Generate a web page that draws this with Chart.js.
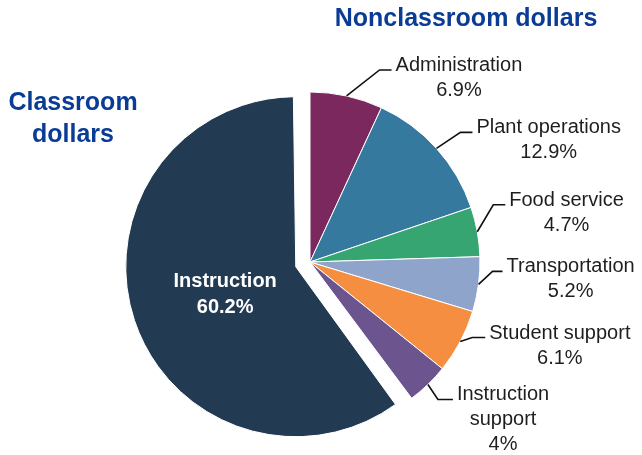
<!DOCTYPE html>
<html>
<head>
<meta charset="utf-8">
<script src="https://cdn.jsdelivr.net/npm/chart.js@4.4.1/dist/chart.umd.min.js"></script>
<style>
  html, body { margin: 0; padding: 0; background: #fff; }
</style>
</head>
<body>
<canvas id="spendingPie" width="642" height="455"></canvas>
<script>
// slices run clockwise from 12 o'clock
const categories = ['Administration', 'Plant operations', 'Food service', 'Transportation',
                    'Student support', 'Instruction support', 'Instruction'];
const labelLines = [['Administration'], ['Plant operations'], ['Food service'], ['Transportation'],
                    ['Student support'], ['Instruction', 'support'], ['Instruction']];
const shares = [6.9, 12.9, 4.7, 5.2, 6.1, 4, 60.2];
const colors = ['#7b285e', '#35799e', '#36a572', '#8fa4cb', '#f68e41', '#6c558e', '#223b53'];
const explode = [0, 0, 0, 0, 0, 0, 60];   // chart.js moves a slice by offset / 4

// leader line elbow (relative to the slice edge) and the length of its flat tail
const elbows = [[33, -26], [24, -16], [16, -27], [14, -13], [12, -4], [10, 15]];
const tails = [12, 12, 12, 10, 13, 15];

const labelFont = '20px "Liberation Sans", Arial, sans-serif';
const titleFont = 'bold 25px "Liberation Sans", Arial, sans-serif';
const titleColor = '#0a3c96';

const sliceLabels = {
  id: 'sliceLabels',
  afterUpdate(chart) {
    // an offset slice also grows by offset / 4, keep it at the same radius as the rest
    chart.getDatasetMeta(0).data.forEach((arc, i) => { arc.outerRadius -= explode[i] / 4; });
  },
  afterDatasetsDraw(chart) {
    const ctx = chart.ctx;
    const arcs = chart.getDatasetMeta(0).data;
    ctx.save();
    ctx.textAlign = 'center';
    ctx.textBaseline = 'alphabetic';
    arcs.forEach((arc, i) => {
      const mid = (arc.startAngle + arc.endAngle) / 2;
      const shift = explode[i] / 4;
      const cx = arc.x + Math.cos(mid) * shift;
      const cy = arc.y + Math.sin(mid) * shift;
      const lines = [...labelLines[i], shares[i] + '%'];
      if (i === arcs.length - 1) {
        // big slice gets its label inside
        const r = arc.outerRadius * 0.48;
        const lx = cx + Math.cos(mid) * r, ly = cy + Math.sin(mid) * r;
        ctx.font = 'bold 20px "Liberation Sans", Arial, sans-serif';
        ctx.fillStyle = '#fff';
        lines.forEach((t, k) => ctx.fillText(t, lx, ly - 3 + k * 26));
        return;
      }
      const sx = cx + Math.cos(mid) * arc.outerRadius;
      const sy = cy + Math.sin(mid) * arc.outerRadius;
      const ex = sx + elbows[i][0], ey = sy + elbows[i][1];
      const tx = ex + tails[i];
      ctx.strokeStyle = '#111';
      ctx.lineWidth = 1.6;
      ctx.beginPath();
      ctx.moveTo(sx, sy);
      ctx.lineTo(ex, ey);
      ctx.lineTo(tx, ey);
      ctx.stroke();
      ctx.font = labelFont;
      ctx.fillStyle = '#1e1e1e';
      const w = Math.max(...lines.map(t => ctx.measureText(t).width));
      const mx = tx + 4 + w / 2;
      lines.forEach((t, k) => ctx.fillText(t, mx, ey + 1 + k * 25));
    });
    ctx.restore();
  },
  afterDraw(chart) {
    const ctx = chart.ctx;
    ctx.save();
    ctx.font = titleFont;
    ctx.fillStyle = titleColor;
    ctx.textAlign = 'center';
    ctx.fillText('Nonclassroom dollars', 466, 26);
    ctx.fillText('Classroom', 73, 110);
    ctx.fillText('dollars', 73, 142);
    ctx.restore();
  }
};

new Chart(document.getElementById('spendingPie'), {
  type: 'pie',
  data: {
    labels: categories,
    datasets: [{
      data: shares,
      backgroundColor: colors,
      borderColor: '#fff',
      borderWidth: 1,
      offset: explode,
      hoverOffset: 0,
      radius: 170
    }]
  },
  options: {
    responsive: false,
    animation: false,
    layout: { padding: { left: 0, right: 22, top: 69, bottom: 0 } },
    plugins: {
      legend: { display: false },
      tooltip: { enabled: false }
    }
  },
  plugins: [sliceLabels]
});
</script>
</body>
</html>
